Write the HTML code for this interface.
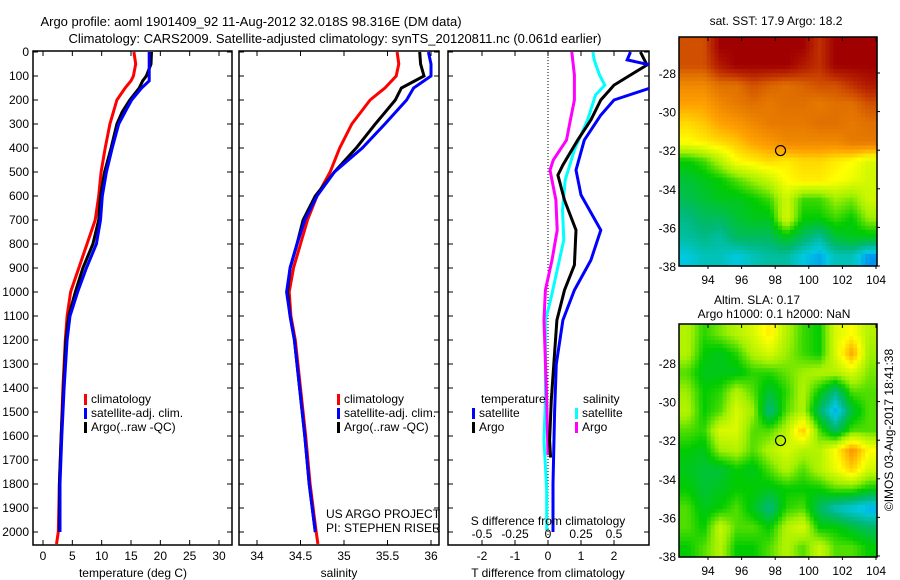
<!DOCTYPE html>
<html><head><meta charset="utf-8">
<style>
html,body{margin:0;padding:0;background:#fff;}
svg{display:block;font-family:"Liberation Sans",sans-serif;}
text{fill:#000;}
</style></head>
<body>
<svg id="fig" width="900" height="580" viewBox="0 0 900 580">
<text x="251" y="26" font-size="13" text-anchor="middle">Argo profile: aoml 1901409_92 11-Aug-2012 32.018S 98.316E (DM data)</text>
<text x="335" y="43" font-size="13" text-anchor="middle">Climatology: CARS2009. Satellite-adjusted climatology: synTS_20120811.nc (0.061d earlier)</text>
<g id="g"></g>
</svg>
<script>
// ---------- data ----------
const depthTicks=[0,100,200,300,400,500,600,700,800,900,1000,1100,1200,1300,1400,1500,1600,1700,1800,1900,2000];
const tempTicks=[0,5,10,15,20,25,30];
const salTicks=[34,34.5,35,35.5,36];
const salTickLabels=["34","34.5","35","35.5","36"];
const dTTicks=[-2,-1,0,1,2];
const dSTicks=[-0.5,-0.25,0,0.25,0.5];
const dSTickLabels=["-0.5","-0.25","0","0.25","0.5"];
const lonTicks=[94,96,98,100,102,104];
const latTicks=[-28,-30,-32,-34,-36,-38];

const tDepth=[0,50,100,120,150,200,250,300,400,500,600,700,800,900,1000,1100,1200,1400,1600,1800,2000];
const tClim=[15.5,15.8,15.4,15.0,14.0,12.6,12.0,11.4,10.6,9.9,9.5,8.9,7.5,6.1,4.7,4.1,3.8,3.4,3.1,2.8,2.6];
const tSat=[18.1,18.1,18.1,18.1,16.8,15.1,14.0,12.9,11.8,10.8,10.1,9.8,9.1,7.4,5.9,4.6,4.1,3.6,3.2,2.9,2.9];
const tArgo=[18.5,18.4,17.6,17.0,16.4,14.8,13.5,12.6,11.6,10.5,9.8,9.5,8.5,6.8,5.5,4.4,3.9,3.5,3.1,2.8,2.8];
const climDeep=[2050];const tClimDeep=[2.3];

const sDepth=[0,50,100,150,200,300,400,500,600,700,800,900,1000,1100,1200,1400,1600,1800,2000];
const sClim=[35.61,35.63,35.60,35.47,35.30,35.09,34.95,34.84,34.69,34.58,34.50,34.42,34.37,34.39,34.44,34.50,34.56,34.61,34.68];
const sSat=[35.97,36.0,36.0,35.80,35.72,35.47,35.21,34.89,34.69,34.55,34.46,34.38,34.34,34.38,34.43,34.49,34.55,34.60,34.67];
const sArgo=[35.87,35.88,35.92,35.66,35.59,35.36,35.14,34.89,34.67,34.53,34.46,34.38,34.35,34.38,34.43,34.49,34.55,34.60,34.67];
const sClimDeep=[34.70];

const dTSatDepth=[0,33,54,75,150,200,263,367,492,596,742,867,992,1117,1300,1500,1800,2000];
const dTSat=[2.5,2.4,3.1,3.2,3.1,2.0,1.6,1.1,0.85,1.0,1.6,1.3,0.8,0.45,0.25,0.2,0.15,0.15];
const dTArgoDepth=[0,54,96,138,200,283,367,471,513,617,742,888,992,1117,1450,1617,1690];
const dTArgo=[2.8,3.0,2.5,2.0,1.6,1.3,0.9,0.45,0.3,0.5,0.85,0.8,0.5,0.27,0.1,0.05,0.08];
const dSArgoDepth=[0,96,200,283,367,450,492,617,742,867,992,1117,1450,1680];
const dSArgo=[0.18,0.2,0.2,0.17,0.14,0.04,0.015,0.06,0.07,0.03,-0.02,-0.03,-0.01,0.0];
const dSSatDepth=[0,33,96,138,179,283,408,533,658,783,908,1033,1117,1450,1617,1825,1992];
const dSSat=[0.34,0.35,0.39,0.43,0.36,0.3,0.2,0.13,0.11,0.12,0.07,0.02,-0.02,-0.02,-0.03,-0.01,-0.01];

const sstGrid=[
[0.85,0.85,1,1,1,1,1,1,0.9,1,1,1],
[0.85,0.85,0.95,1,1,1,1,0.95,0.9,1,1,1],
[0.75,0.75,0.8,0.8,0.85,0.82,0.8,0.82,0.85,0.85,0.9,0.95],
[0.7,0.7,0.75,0.78,0.8,0.78,0.8,0.8,0.78,0.8,0.8,0.85],
[0.64,0.66,0.7,0.72,0.75,0.78,0.78,0.78,0.8,0.8,0.78,0.8],
[0.6,0.62,0.64,0.66,0.7,0.72,0.75,0.75,0.75,0.75,0.78,0.78],
[0.42,0.45,0.52,0.6,0.62,0.64,0.62,0.64,0.64,0.62,0.6,0.56],
[0.38,0.4,0.42,0.46,0.5,0.54,0.6,0.62,0.62,0.6,0.58,0.55],
[0.36,0.38,0.4,0.4,0.42,0.45,0.55,0.45,0.45,0.5,0.48,0.55],
[0.32,0.35,0.35,0.38,0.4,0.4,0.56,0.42,0.42,0.45,0.42,0.5],
[0.3,0.32,0.3,0.35,0.35,0.35,0.4,0.35,0.3,0.38,0.4,0.4],
[0.25,0.28,0.28,0.25,0.28,0.3,0.3,0.25,0.22,0.28,0.28,0.2]];
const slaGrid=[
[0.52,0.44,0.48,0.52,0.56,0.62,0.52,0.45,0.42,0.56,0.6,0.52],
[0.52,0.42,0.4,0.44,0.52,0.56,0.5,0.45,0.42,0.56,0.7,0.5],
[0.46,0.4,0.4,0.4,0.44,0.44,0.47,0.5,0.52,0.52,0.56,0.48],
[0.5,0.42,0.44,0.52,0.46,0.38,0.44,0.52,0.42,0.32,0.46,0.46],
[0.52,0.42,0.46,0.56,0.5,0.32,0.46,0.52,0.35,0.22,0.38,0.46],
[0.46,0.44,0.56,0.56,0.46,0.46,0.52,0.66,0.46,0.35,0.46,0.46],
[0.42,0.4,0.5,0.52,0.46,0.52,0.56,0.52,0.52,0.6,0.72,0.6],
[0.4,0.38,0.38,0.42,0.4,0.46,0.52,0.46,0.52,0.58,0.65,0.55],
[0.42,0.38,0.4,0.42,0.42,0.4,0.42,0.42,0.42,0.46,0.46,0.42],
[0.46,0.4,0.42,0.46,0.4,0.32,0.44,0.46,0.35,0.28,0.25,0.22],
[0.46,0.42,0.54,0.46,0.46,0.42,0.52,0.56,0.42,0.42,0.38,0.35],
[0.42,0.46,0.52,0.42,0.42,0.46,0.52,0.46,0.54,0.46,0.46,0.42]];
const argoLon=[98.316];const argoLat=[-32.018];

// ---------- helpers ----------
const NS="http://www.w3.org/2000/svg";
const G=document.getElementById('g');
function mk(tag,attrs,parent){const e=document.createElementNS(NS,tag);for(const k in attrs)e.setAttribute(k,attrs[k]);(parent||G).appendChild(e);return e;}
function txt(x,y,s,size,anchor){const t=mk('text',{x:x,y:y,'font-size':size||12,'text-anchor':anchor||'start'});t.textContent=s;return t;}
const yD=d=>52+d*0.24;
const xT=v=>43+v*5.867;
const xS=v=>257+(v-34)*87;
const xDT=v=>548+v*33;
const xDS=v=>548+v*132;

function panelFrame(x0,x1,name){
  const r=mk('rect',{x:x0,y:51,width:x1-x0,height:494,fill:'none',stroke:'#000','stroke-width':1.5});
  
  
  depthTicks.forEach(d=>{mk('line',{x1:x0,x2:x0+5,y1:yD(d),y2:yD(d),stroke:'#000'});mk('line',{x1:x1-5,x2:x1,y1:yD(d),y2:yD(d),stroke:'#000'});});
}
function line(xs,ds,xf,color,name,clip){
  const pts=xs.map((v,i)=>xf(v).toFixed(1)+','+yD(ds[i]).toFixed(1)).join(' ');
  const p=mk('polyline',{points:pts,fill:'none',stroke:color,'stroke-width':3,'stroke-linejoin':'miter'});
  if(clip)p.setAttribute('clip-path',clip);
  
  
}
mk('clipPath',{id:'c3'});
mk('rect',{x:448,y:51,width:201,height:494},document.getElementById('c3'));

// ---------- panel 1 ----------
panelFrame(33,232,'temperature-panel');
depthTicks.forEach(d=>{const t=txt(29,yD(d)+4,String(d),12,'end');});
tempTicks.forEach(v=>{mk('line',{x1:xT(v),x2:xT(v),y1:545,y2:540,stroke:'#000'});mk('line',{x1:xT(v),x2:xT(v),y1:51,y2:56,stroke:'#000'});
  const t=txt(xT(v),560,String(v),12,'middle');});
line(tClim.concat(tClimDeep),tDepth.concat(climDeep),xT,'#ff0000','temperature-climatology-line');
line(tArgo,tDepth,xT,'#000000','temperature-argo-line');
line(tSat,tDepth,xT,'#0000ff','temperature-satellite-line');
txt(133,577,'temperature (deg C)',12,'middle');

// ---------- panel 2 ----------
panelFrame(239,439,'salinity-panel');
salTicks.forEach((v,i)=>{mk('line',{x1:xS(v),x2:xS(v),y1:545,y2:540,stroke:'#000'});mk('line',{x1:xS(v),x2:xS(v),y1:51,y2:56,stroke:'#000'});
  const t=txt(xS(v),560,salTickLabels[i],12,'middle');});
line(sClim.concat(sClimDeep),sDepth.concat(climDeep),xS,'#ff0000','salinity-climatology-line');
line(sArgo,sDepth,xS,'#000000','salinity-argo-line');
line(sSat,sDepth,xS,'#0000ff','salinity-satellite-line');
txt(339,577,'salinity',12,'middle');
txt(326,518,'US ARGO PROJECT',12);
txt(326,532,'PI: STEPHEN RISER',12);

function legendEntry(x,y,color,label,name){
  mk('rect',{x:x,y:y-9,width:3,height:11,fill:color});
  const t=txt(x+7,y,label,12);
}
legendEntry(84,403,'#ff0000','climatology','legend-climatology');
legendEntry(84,417,'#0000ff','satellite-adj. clim.','legend-satellite');
legendEntry(84,431,'#000000','Argo(..raw -QC)','legend-argo');
legendEntry(337,403,'#ff0000','climatology','legend-climatology-2');
legendEntry(337,417,'#0000ff','satellite-adj. clim.','legend-satellite-2');
legendEntry(337,431,'#000000','Argo(..raw -QC)','legend-argo-2');

// ---------- panel 3 ----------
panelFrame(448,649,'difference-panel');
mk('line',{x1:548,x2:548,y1:51,y2:545,stroke:'#000','stroke-dasharray':'1,2'});
dTTicks.forEach(v=>{mk('line',{x1:xDT(v),x2:xDT(v),y1:545,y2:540,stroke:'#000'});mk('line',{x1:xDT(v),x2:xDT(v),y1:51,y2:56,stroke:'#000'});
  const t=txt(xDT(v),560,String(v),12,'middle');});
line(dSSat,dSSatDepth,xDS,'#00ffff','s-diff-satellite-line','url(#c3)');
line(dSArgo,dSArgoDepth,xDS,'#ff00ff','s-diff-argo-line','url(#c3)');
line(dTArgo,dTArgoDepth,xDT,'#000000','t-diff-argo-line','url(#c3)');
line(dTSat,dTSatDepth,xDT,'#0000ff','t-diff-satellite-line','url(#c3)');
dSTicks.forEach((v,i)=>{const t=txt(xDS(v),538,dSTickLabels[i],12,'middle');});
txt(548,525,'S difference from climatology',12,'middle');
txt(548,577,'T difference from climatology',12,'middle');
txt(481,403,'temperature',12);
legendEntry(472,417,'#0000ff','satellite','legend-t-satellite');
legendEntry(472,431,'#000000','Argo','legend-t-argo');
txt(583,403,'salinity',12);
legendEntry(575,417,'#00ffff','satellite','legend-s-satellite');
legendEntry(575,431,'#ff00ff','Argo','legend-s-argo');

// ---------- maps ----------
const stops=[[0,[0,0,160]],[0.15,[0,96,255]],[0.25,[0,200,224]],[0.33,[0,184,120]],[0.42,[0,204,0]],[0.5,[160,240,0]],[0.6,[255,255,0]],[0.7,[255,160,0]],[0.8,[224,112,0]],[0.9,[192,48,0]],[1,[160,0,0]]];
function cmap(v){v=Math.max(0,Math.min(1,v));for(let i=1;i<stops.length;i++){if(v<=stops[i][0]){const a=stops[i-1],b=stops[i];const f=(v-a[0])/(b[0]-a[0]);return 'rgb('+a[1].map((c,k)=>Math.round(c+(b[1][k]-c)*f)).join(',')+')';}}return 'rgb(160,0,0)';}
function drawMap(grid,x0,y0,w,h,lat0,name,step){
  const grp=mk('g',{});
  
  
  const R=grid.length,C=grid[0].length;
  const nx=Math.round(w/step),ny=Math.round(h/step);
  for(let j=0;j<ny;j++)for(let i=0;i<nx;i++){
    const gx=Math.max(0,Math.min(C-1.001,(i+0.5)/nx*C-0.5)),gy=Math.max(0,Math.min(R-1.001,(j+0.5)/ny*R-0.5));
    const ix=Math.floor(gx),iy=Math.floor(gy),fx=gx-ix,fy=gy-iy;
    const v=grid[iy][ix]*(1-fx)*(1-fy)+grid[iy][ix+1]*fx*(1-fy)+grid[iy+1][ix]*(1-fx)*fy+grid[iy+1][ix+1]*fx*fy;
    mk('rect',{x:(x0+i*w/nx).toFixed(2),y:(y0+j*h/ny).toFixed(2),width:(w/nx+0.6).toFixed(2),height:(h/ny+0.6).toFixed(2),fill:cmap(v)},grp);
  }
  const xL=lon=>708+(lon-94)*16.8;
  const yL=lat=>lat0+(-28-lat)*19.3;
  mk('rect',{x:x0,y:y0,width:w,height:h,fill:'none',stroke:'#000','stroke-width':1.5});
  lonTicks.forEach(l=>{mk('line',{x1:xL(l),x2:xL(l),y1:y0,y2:y0+4,stroke:'#000'});mk('line',{x1:xL(l),x2:xL(l),y1:y0+h,y2:y0+h+3,stroke:'#000'});
    const t=txt(xL(l),y0+h+18,String(l),12,'middle');});
  latTicks.forEach(l=>{mk('line',{x1:x0+w,x2:x0+w+3,y1:yL(l),y2:yL(l),stroke:'#000'});
    const t=txt(x0-3,yL(l)+5,String(l),12,'end');});
  const c=mk('circle',{cx:xL(argoLon[0]),cy:yL(argoLat[0]),r:5,fill:'none',stroke:'#000','stroke-width':1.2});
  
  
}
drawMap(sstGrid,679,37,198,229,73,'sst-map',4);
drawMap(slaGrid,679,324,198,233,363,'sla-map',4);
txt(776,25,'sat. SST: 17.9 Argo: 18.2',12,'middle');
txt(757,304,'Altim. SLA: 0.17',12,'middle');
txt(774,318,'Argo h1000: 0.1 h2000: NaN',12,'middle');
const v=txt(0,0,'\u00A9IMOS 03-Aug-2017 18:41:38',12,'middle');
v.setAttribute('transform','translate(893,430) rotate(-90)');


</script>
</body></html>
